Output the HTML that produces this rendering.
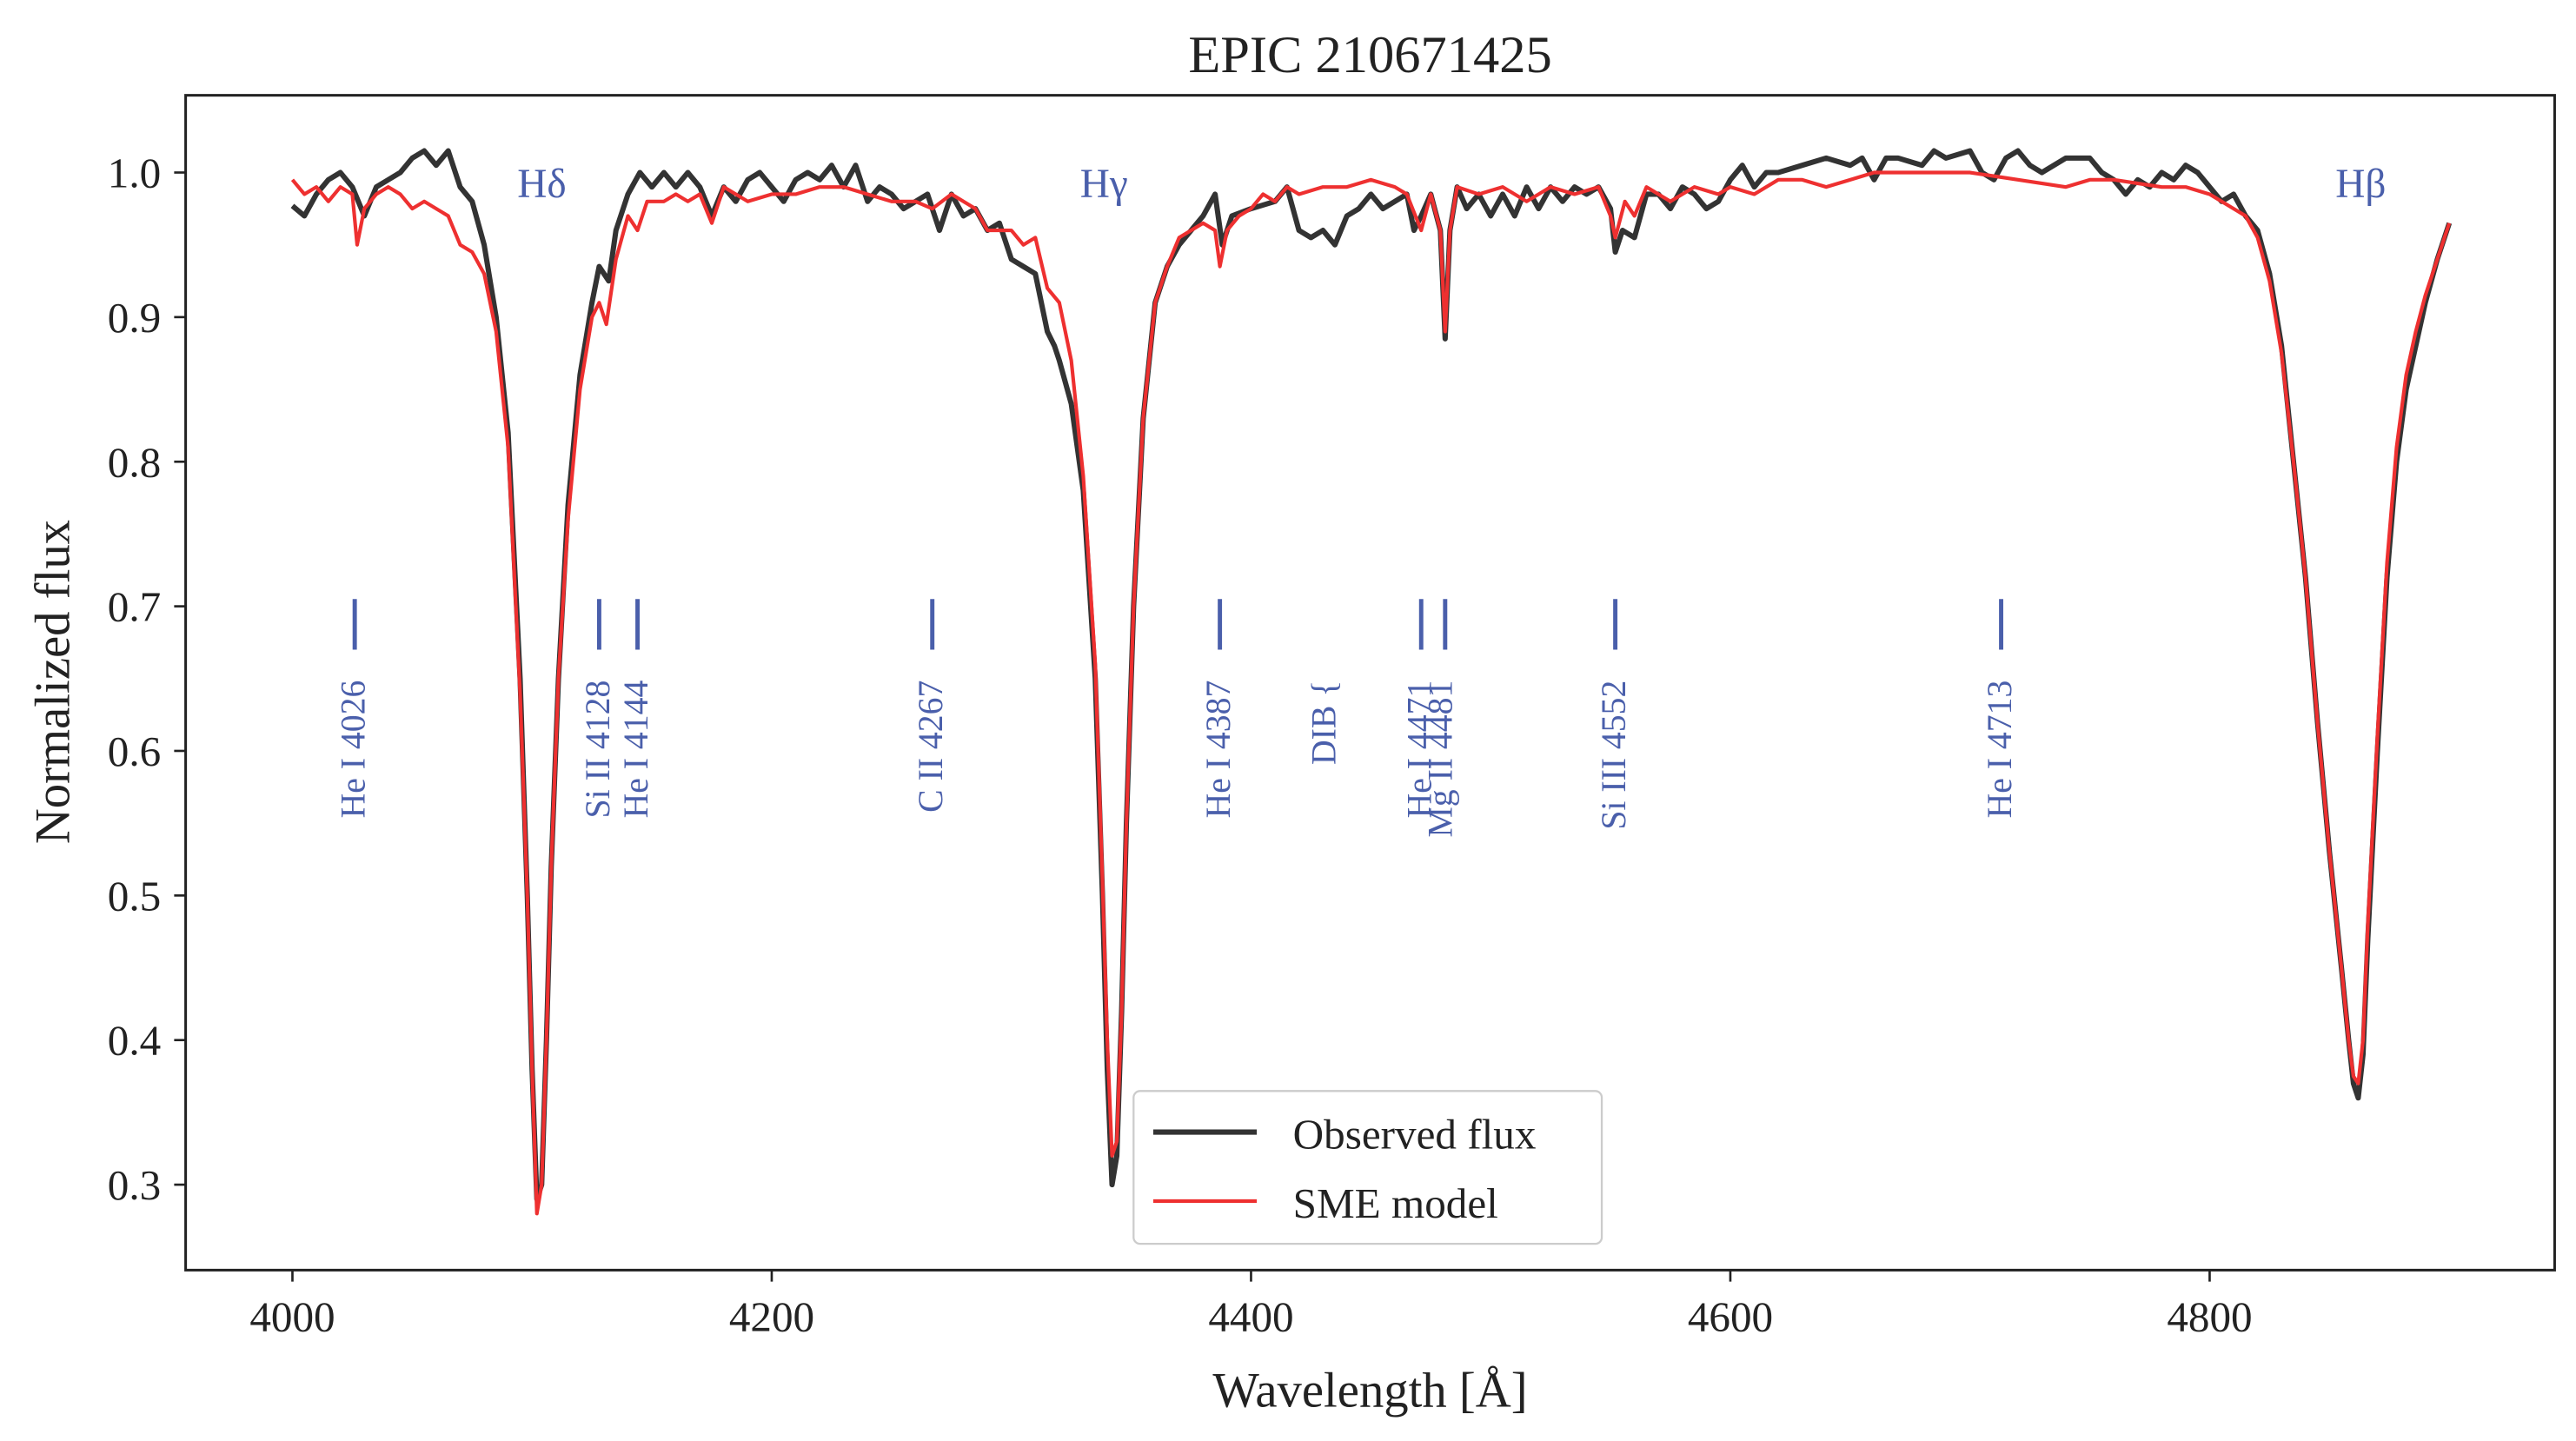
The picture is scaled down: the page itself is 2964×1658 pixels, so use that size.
<!DOCTYPE html>
<html><head><meta charset="utf-8"><style>
html,body{margin:0;padding:0;background:#fff;}
svg{display:block;}
text{font-family:"Liberation Serif","DejaVu Serif",serif;}
</style></head><body>
<svg id="chart" width="2964" height="1658" viewBox="0 0 1568 877" preserveAspectRatio="none" xmlns="http://www.w3.org/2000/svg">
<rect x="0" y="0" width="1568" height="877" fill="#fff"/>
<text x="834" y="44" font-size="32" text-anchor="middle" fill="#222">EPIC 210671425</text>
<g id="plot"></g>
<rect x="113" y="58" width="1442" height="715" fill="none" stroke="#222" stroke-width="1.6"/>
<text x="834" y="856" font-size="30" text-anchor="middle" fill="#222">Wavelength  [Å]</text>
<text transform="translate(42,415) rotate(-90)" font-size="30" text-anchor="middle" fill="#222">Normalized flux</text>
<g>
<rect x="690" y="664" width="285" height="93" rx="4" fill="#fff" stroke="#ccc" stroke-width="1.2"/>
<line x1="702" y1="689" x2="765" y2="689" stroke="#333" stroke-width="3.2"/>
<text x="787" y="699" font-size="26" fill="#222">Observed flux</text>
<line x1="702" y1="731" x2="765" y2="731" stroke="#ee3030" stroke-width="2.2"/>
<text x="787" y="741" font-size="26" fill="#222">SME model</text>
</g>
</svg>
<script>
const xTicks=[4000,4200,4400,4600,4800];
const yTicks=[0.3,0.4,0.5,0.6,0.7,0.8,0.9,1.0];
const obsWave=[4000,4005,4010,4015,4020,4025,4030,4035,4040,4045,4050,4055,4060,4065,4070,4075,4080,4085,4090,4095,4098,4100,4102,4104,4106,4108,4111,4115,4120,4125,4128,4132,4135,4140,4145,4150,4155,4160,4165,4170,4175,4180,4185,4190,4195,4200,4205,4210,4215,4220,4225,4230,4235,4240,4245,4250,4255,4260,4265,4270,4275,4280,4285,4290,4295,4300,4305,4310,4315,4318,4320,4325,4330,4335,4338,4340,4342,4344,4346,4348,4351,4355,4360,4365,4370,4375,4380,4385,4388,4392,4400,4410,4415,4420,4425,4430,4435,4440,4445,4450,4455,4460,4465,4468,4471,4475,4479,4481,4483,4486,4490,4495,4500,4505,4510,4515,4520,4525,4530,4535,4540,4545,4550,4552,4555,4560,4565,4570,4575,4580,4585,4590,4595,4600,4605,4610,4615,4620,4630,4640,4650,4655,4660,4665,4670,4680,4685,4690,4700,4705,4710,4715,4720,4725,4730,4740,4750,4755,4760,4765,4770,4775,4780,4785,4790,4795,4800,4805,4810,4815,4820,4825,4830,4835,4840,4845,4850,4855,4858,4860,4862,4864,4866,4870,4874,4878,4882,4886,4890,4895,4900];
const obsFlux=[0.977,0.970,0.985,0.995,1.0,0.99,0.97,0.99,0.995,1.0,1.01,1.015,1.005,1.015,0.99,0.98,0.95,0.90,0.82,0.65,0.50,0.38,0.29,0.30,0.40,0.52,0.65,0.77,0.86,0.91,0.935,0.925,0.96,0.985,1.0,0.99,1.0,0.99,1.0,0.99,0.97,0.99,0.98,0.995,1.0,0.99,0.98,0.995,1.0,0.995,1.005,0.99,1.005,0.98,0.99,0.985,0.975,0.98,0.985,0.96,0.985,0.97,0.975,0.96,0.965,0.94,0.935,0.93,0.89,0.88,0.87,0.84,0.78,0.65,0.50,0.38,0.30,0.32,0.42,0.55,0.70,0.83,0.91,0.935,0.95,0.96,0.97,0.985,0.95,0.97,0.975,0.98,0.99,0.96,0.955,0.96,0.95,0.97,0.975,0.985,0.975,0.98,0.985,0.96,0.97,0.985,0.96,0.885,0.96,0.99,0.975,0.985,0.97,0.985,0.97,0.99,0.975,0.99,0.98,0.99,0.985,0.99,0.975,0.945,0.96,0.955,0.985,0.985,0.975,0.99,0.985,0.975,0.98,0.995,1.005,0.99,1.0,1.0,1.005,1.01,1.005,1.01,0.995,1.01,1.01,1.005,1.015,1.01,1.015,1.0,0.995,1.01,1.015,1.005,1.0,1.01,1.01,1.0,0.995,0.985,0.995,0.99,1.0,0.995,1.005,1.0,0.99,0.98,0.985,0.97,0.96,0.93,0.88,0.80,0.72,0.62,0.53,0.45,0.40,0.37,0.36,0.39,0.47,0.60,0.72,0.80,0.85,0.88,0.91,0.94,0.965];
const modWave=[4000,4005,4010,4015,4020,4025,4027,4030,4035,4040,4045,4050,4055,4060,4065,4070,4075,4080,4085,4090,4095,4098,4100,4102,4104,4106,4108,4111,4115,4120,4125,4128,4131,4135,4140,4144,4148,4155,4160,4165,4170,4175,4180,4190,4200,4210,4220,4230,4240,4250,4260,4267,4275,4285,4290,4300,4305,4310,4315,4320,4325,4330,4335,4338,4340,4342,4344,4346,4348,4351,4355,4360,4365,4370,4375,4380,4385,4387,4390,4395,4400,4405,4410,4415,4420,4430,4440,4450,4460,4465,4471,4475,4479,4481,4483,4486,4495,4505,4515,4525,4535,4545,4550,4552,4556,4560,4565,4575,4585,4595,4600,4610,4620,4630,4640,4650,4660,4680,4700,4720,4740,4750,4760,4780,4790,4800,4810,4815,4820,4825,4830,4835,4840,4845,4850,4855,4858,4860,4862,4864,4866,4870,4874,4878,4882,4886,4890,4895,4900];
const modFlux=[0.995,0.985,0.99,0.98,0.99,0.985,0.95,0.975,0.985,0.99,0.985,0.975,0.98,0.975,0.97,0.95,0.945,0.93,0.89,0.81,0.64,0.50,0.38,0.28,0.30,0.40,0.52,0.65,0.76,0.85,0.90,0.91,0.895,0.94,0.97,0.96,0.98,0.98,0.985,0.98,0.985,0.965,0.99,0.98,0.985,0.985,0.99,0.99,0.985,0.98,0.98,0.975,0.985,0.975,0.96,0.96,0.95,0.955,0.92,0.91,0.87,0.79,0.66,0.51,0.40,0.32,0.33,0.42,0.55,0.70,0.83,0.91,0.935,0.955,0.96,0.965,0.96,0.935,0.96,0.97,0.975,0.985,0.98,0.99,0.985,0.99,0.99,0.995,0.99,0.985,0.96,0.985,0.96,0.89,0.96,0.99,0.985,0.99,0.98,0.99,0.985,0.99,0.97,0.955,0.98,0.97,0.99,0.98,0.99,0.985,0.99,0.985,0.995,0.995,0.99,0.995,1.0,1.0,1.0,0.995,0.99,0.995,0.995,0.99,0.99,0.985,0.975,0.97,0.955,0.925,0.875,0.80,0.72,0.62,0.53,0.45,0.40,0.375,0.37,0.40,0.48,0.61,0.73,0.81,0.86,0.89,0.915,0.94,0.965];
const lineWaves=[4026,4128,4144,4267,4387,4471,4481,4552,4713];
const lineLabels=["He I 4026","Si II 4128","He I 4144","C II 4267","He I 4387","He I 4471","Mg II 4481","Si III 4552","He I 4713"];
const balmerWaves=[4102,4340,4861];
const balmerLabels=["Hδ","Hγ","Hβ"];
const balmerOffsets=[0,-5,0];

const X=w=>178+(w-4000)*(1345-178)/800;
const Y=f=>105+(1.0-f)*(721-105)/0.7;
const NS="http://www.w3.org/2000/svg";
const plot=document.getElementById('plot');
function mk(tag,attrs,parent){const e=document.createElementNS(NS,tag);for(const k in attrs)e.setAttribute(k,attrs[k]);(parent||plot).appendChild(e);return e;}

xTicks.forEach(t=>{
  const l=mk('line',{x1:X(t),x2:X(t),y1:773,y2:780,stroke:'#222','stroke-width':1.4});
  
  
  const tx=mk('text',{x:X(t),y:810,'font-size':26,'text-anchor':'middle',fill:'#222'});
  tx.textContent=t;
  
  
});
yTicks.forEach(t=>{
  const l=mk('line',{x1:106,x2:113,y1:Y(t),y2:Y(t),stroke:'#222','stroke-width':1.4});
  
  
  const tx=mk('text',{x:98,y:Y(t)+9,'font-size':26,'text-anchor':'end',fill:'#222'});
  tx.textContent=t.toFixed(1);
  
  
});

function pathOf(ws,fs){return ws.map((w,i)=>(i?'L':'M')+X(w).toFixed(2)+','+Y(fs[i]).toFixed(2)).join('');}
const obs=mk('path',{d:pathOf(obsWave,obsFlux),fill:'none',stroke:'#333','stroke-width':3.2,'stroke-linejoin':'round'});


const mod=mk('path',{d:pathOf(modWave,modFlux),fill:'none',stroke:'#ee3030','stroke-width':2.2,'stroke-linejoin':'round'});



const blue='#4a5fab';
lineWaves.forEach((w,i)=>{
  const l=mk('line',{x1:X(w),x2:X(w),y1:Y(0.705),y2:Y(0.67),stroke:blue,'stroke-width':2.6});
  
  
  const dx = lineLabels[i].startsWith('Mg')?-2:0;
  const tx=mk('text',{transform:`translate(${X(w)+6+dx},414) rotate(-90)`,'font-size':21,'text-anchor':'end',fill:blue});
  tx.textContent=lineLabels[i];
  
  
});
const dib=mk('text',{transform:`translate(${X(4431)+6},414) rotate(-90)`,'font-size':21,'text-anchor':'end',fill:blue});
dib.textContent='DIB {';


balmerWaves.forEach((w,i)=>{
  const tx=mk('text',{x:X(w)+3+balmerOffsets[i],y:120,'font-size':25,'text-anchor':'middle',fill:blue});
  tx.textContent=balmerLabels[i];
  
  
});
</script>
</body></html>
